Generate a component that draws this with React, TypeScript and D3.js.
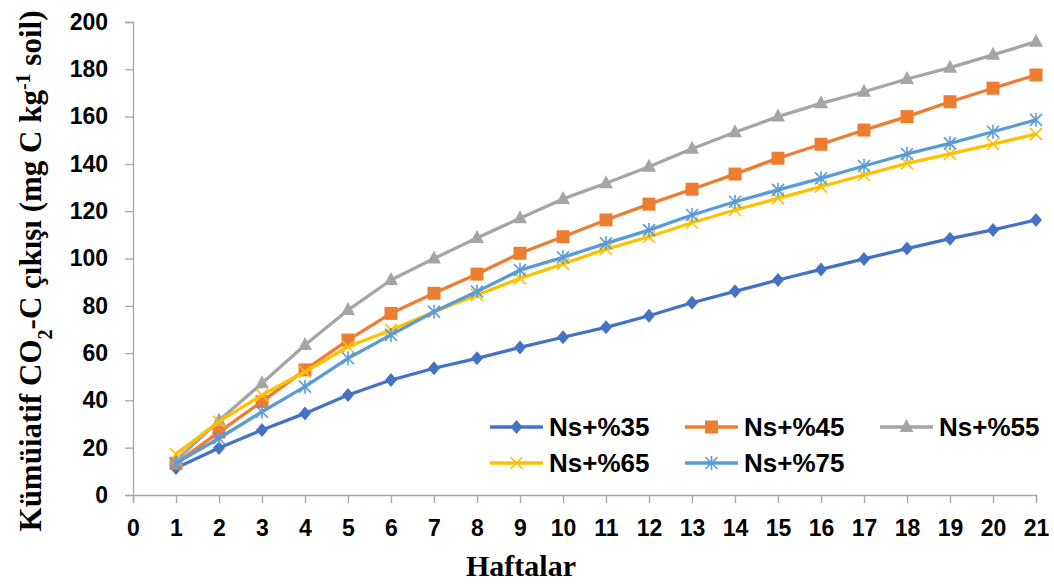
import React from "react";
import * as d3 from "d3";

const weeks = [1, 2, 3, 4, 5, 6, 7, 8, 9, 10, 11, 12, 13, 14, 15, 16, 17, 18, 19, 20, 21];
const ns35 = [11.4, 19.9, 27.5, 34.5, 42.3, 48.6, 53.6, 57.8, 62.4, 66.7, 70.9, 75.8, 81.3, 86.1, 90.9, 95.4, 99.8, 104.2, 108.4, 112.1, 116.3];
const ns45 = [13.4, 26.6, 39.5, 52.9, 65.5, 76.8, 85.3, 93.4, 102.2, 109.2, 116.3, 123, 129.3, 135.7, 142.4, 148.3, 154.3, 160, 166.3, 172, 177.6];
const ns55 = [14.5, 31.5, 47.2, 63.4, 78.2, 90.9, 100, 108.7, 117, 125.2, 131.8, 138.8, 146.4, 153.4, 160, 165.6, 170.5, 175.9, 180.7, 186.1, 191.7];
const ns65 = [17.3, 31, 42.3, 52.1, 62.7, 69.8, 77.5, 84.6, 91.6, 97.7, 104, 109.2, 115.1, 120.5, 125.4, 130.4, 135.3, 140.2, 144.2, 148.4, 152.6];
const ns75 = [13.4, 24, 35.2, 45.8, 57.8, 67.7, 77.5, 86, 95.1, 100.5, 106.4, 112, 118.4, 124, 129, 133.9, 139.1, 144.2, 148.7, 153.6, 158.6];

const seriesNames = ["Ns+%35", "Ns+%45", "Ns+%55", "Ns+%65", "Ns+%75"];
const seriesValues = [ns35, ns45, ns55, ns65, ns75];
const seriesColors = ["#4472C4", "#ED7D31", "#A5A5A5", "#FFC000", "#5B9BD5"];
const seriesMarkers = ["diamond", "square", "triangle", "x", "star"];

const xTicks = d3.range(0, 22);
const yTicks = d3.range(0, 201, 20);

const W = 1054;
const H = 585;

const drawMarker = (g, type, x, y, color) => {
    if (type === "diamond") {
        g.append("path").attr("d", `M${x},${y - 7}L${x + 6},${y}L${x},${y + 7}L${x - 6},${y}Z`).attr("fill", color)
    } else if (type === "square") {
        g.append("rect").attr("x", x - 6.5).attr("y", y - 6.5).attr("width", 13).attr("height", 13).attr("fill", color)
    } else if (type === "triangle") {
        g.append("path").attr("d", `M${x},${y - 8}L${x + 7},${y + 5}L${x - 7},${y + 5}Z`).attr("fill", color)
    } else if (type === "x") {
        g.append("path").attr("d", `M${x - 6},${y - 6}L${x + 6},${y + 6}M${x - 6},${y + 6}L${x + 6},${y - 6}`)
            .attr("stroke", color).attr("stroke-width", 1.6)
    } else if (type === "star") {
        g.append("path").attr("d", `M${x - 6},${y - 6}L${x + 6},${y + 6}M${x - 6},${y + 6}L${x + 6},${y - 6}M${x},${y - 7}L${x},${y + 7}`)
            .attr("stroke", color).attr("stroke-width", 1.6)
    }
}

const App = () => {
    const svgRef = React.useRef(null);

    React.useEffect(() => {
        document.body.style.margin = "0"
        drawChart()
    }, []);

    const drawChart = () => {
        const svg = d3.select(svgRef.current)
        svg.selectAll("*").remove()

        const x = d3.scaleLinear().domain([0, 21]).range([133, 1036])
        const y = d3.scaleLinear().domain([0, 200]).range([495, 22])

        // axes
        const yAxis = svg.append("g")
            .attr("transform", `translate(${x(0)},0)`)
            .call(d3.axisLeft(y).tickValues(yTicks).tickSize(8).tickPadding(17))
        const xAxis = svg.append("g")
            .attr("transform", `translate(0,${y(0)})`)
            .call(d3.axisBottom(x).tickValues(xTicks).tickSize(8).tickPadding(17))

        for (const ax of [xAxis, yAxis]) {
            ax.select(".domain").attr("stroke", "#a6a6a6").attr("stroke-width", 1.3)
            ax.selectAll(".tick line").attr("stroke", "#a6a6a6").attr("stroke-width", 1.3)
            ax.selectAll(".tick text")
                .attr("fill", "#000")
                .style("font", "bold 23px 'Liberation Sans', Arial, sans-serif")
        }
        xAxis.selectAll(".tick text").attr("dy", "0.71em")

        // lines
        const line = d3.line().x((d, i) => x(weeks[i])).y(d => y(d))
        seriesValues.forEach((vals, s) => {
            const g = svg.append("g")
            g.append("path")
                .datum(vals)
                .attr("d", line)
                .attr("fill", "none")
                .attr("stroke", seriesColors[s])
                .attr("stroke-width", 3.3)
                .attr("stroke-linejoin", "round")
            vals.forEach((v, i) => drawMarker(g, seriesMarkers[s], x(weeks[i]), y(v), seriesColors[s]))
        })

        // legend
        const legend = svg.append("g")
        seriesNames.forEach((name, s) => {
            const lx = 490 + (s % 3) * 195
            const ly = s < 3 ? 427 : 463
            const g = legend.append("g")
            g.append("line")
                .attr("x1", lx).attr("x2", lx + 53)
                .attr("y1", ly).attr("y2", ly)
                .attr("stroke", seriesColors[s])
                .attr("stroke-width", 3.3)
            drawMarker(g, seriesMarkers[s], lx + 26.5, ly, seriesColors[s])
            g.append("text")
                .attr("x", lx + 59)
                .attr("y", ly)
                .attr("dy", "0.36em")
                .style("font", "bold 26px 'Liberation Sans', Arial, sans-serif")
                .text(name)
        })

        // axis titles
        svg.append("text")
            .attr("x", 521)
            .attr("y", 576)
            .attr("text-anchor", "middle")
            .style("font", "bold 30px 'Liberation Serif', 'Times New Roman', serif")
            .text("Haftalar")

        const yt = svg.append("text")
            .attr("transform", "translate(41,271) rotate(-90)")
            .attr("text-anchor", "middle")
            .style("font", "bold 31px 'Liberation Serif', 'Times New Roman', serif")
        yt.append("tspan").text("Kümüiatif CO")
        yt.append("tspan").attr("baseline-shift", "sub").style("font-size", "20px").text("2")
        yt.append("tspan").text("-C çıkışı (mg C kg")
        yt.append("tspan").attr("baseline-shift", "super").style("font-size", "20px").text("-1")
        yt.append("tspan").text(" soil)")
    }

    return <svg ref={svgRef} width={W} height={H} style={{ display: "block", background: "#fff" }}></svg>
}

export default App
